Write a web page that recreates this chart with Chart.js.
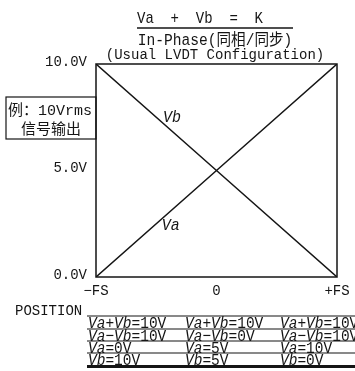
<!DOCTYPE html>
<html>
<head>
<meta charset="utf-8">
<script src="https://cdn.jsdelivr.net/npm/chart.js@4.4.1/dist/chart.umd.min.js"></script>
<style>
  html, body { margin: 0; padding: 0; background: #fff; }
  canvas { display: block; }
</style>
</head>
<body>
<canvas id="chart" width="355" height="371"></canvas>
<script>
// core position (-FS .. +FS) and the two secondary outputs
const positionLabels = ['\u2212FS', '0', '+FS'];
const positionValues = [-1, 0, 1];
const vaValues = [0, 5, 10];
const vbValues = [10, 5, 0];
const voltTicks = [0, 5, 10];
const voltTickLabels = ['0.0V', '5.0V', '10.0V'];

const titleLines = ['Va  +  Vb  =  K', 'In-Phase(同相/同步)', '(Usual LVDT Configuration)'];
const noteLines = ['例：10Vrms', '信号输出'];
const lineNames = [
    { text: 'Va', x: -0.38, y: 2.4 },
    { text: 'Vb', x: -0.37, y: 7.5 }
];

const INK = '#151515';
const MONO = "'Liberation Mono', 'Noto Sans CJK SC', monospace";

function tableRows(i) {
    const va = vaValues[i];
    const vb = vbValues[i];
    return [
        [['Va', true], ['+', false], ['Vb', true], ['=' + (va + vb) + 'V', false]],
        [['Va', true], ['\u2212', false], ['Vb', true], ['=' + Math.abs(va - vb) + 'V', false]],
        [['Va', true], ['=' + va + 'V', false]],
        [['Vb', true], ['=' + vb + 'V', false]]
    ];
}

// text drawn a little taller than wide, like the narrow print font
function tallText(ctx, t, x, y, stretch) {
    ctx.save();
    ctx.translate(x, y);
    ctx.scale(1, stretch);
    ctx.fillText(t, 0, 0);
    ctx.restore();
}

function drawParts(ctx, parts, x, y, size) {
    parts.forEach(([t, italic]) => {
        ctx.font = (italic ? 'italic ' : '') + size + 'px ' + MONO;
        tallText(ctx, t, x, y, 1.15);
        x += ctx.measureText(t).width;
    });
}

const decorations = {
    id: 'decorations',
    afterDatasetsDraw(chart) {
        const { ctx, chartArea: a, scales } = chart;
        ctx.save();
        ctx.strokeStyle = INK;
        ctx.fillStyle = INK;

        // frame around the plot
        ctx.lineWidth = 1.5;
        ctx.strokeRect(a.left, a.top, a.right - a.left, a.bottom - a.top);

        // heading
        ctx.textAlign = 'center';
        ctx.textBaseline = 'alphabetic';
        ctx.font = '14px ' + MONO;
        tallText(ctx, titleLines[0], 200, 23, 1.15);
        ctx.beginPath();
        ctx.moveTo(137, 28);
        ctx.lineTo(293, 28);
        ctx.stroke();
        ctx.font = '14.6px ' + MONO;
        tallText(ctx, titleLines[1], 215, 45, 1.1);
        ctx.font = '14px ' + MONO;
        tallText(ctx, titleLines[2], 215, 59, 1.1);

        // example note box on the left
        ctx.lineWidth = 1.2;
        ctx.strokeRect(6, 97, a.left - 6, 42);
        ctx.font = '15px ' + MONO;
        ctx.fillText(noteLines[0], 50, 115);
        ctx.fillText(noteLines[1], 51, 134);

        // curve names
        ctx.font = 'italic 15px ' + MONO;
        ctx.textBaseline = 'middle';
        lineNames.forEach(n => {
            tallText(ctx, n.text, scales.x.getPixelForValue(n.x), scales.y.getPixelForValue(n.y), 1.1);
        });

        // position table
        ctx.textAlign = 'left';
        ctx.textBaseline = 'alphabetic';
        ctx.font = '14px ' + MONO;
        tallText(ctx, 'POSITION', 15, 315, 1.1);

        const rowLines = [316, 329, 341, 353];
        ctx.lineWidth = 1.2;
        rowLines.forEach(y => {
            ctx.beginPath();
            ctx.moveTo(87, y);
            ctx.lineTo(355, y);
            ctx.stroke();
        });
        ctx.fillRect(87, 365, 268, 3);

        const colX = [88, 185, 280];
        positionValues.forEach((p, i) => {
            tableRows(i).forEach((parts, r) => {
                drawParts(ctx, parts, colX[i], rowLines[r] + 12, 14.5);
            });
        });
        ctx.restore();
    }
};

new Chart(document.getElementById('chart'), {
    type: 'line',
    data: {
        datasets: [
            {
                label: 'Va',
                data: positionValues.map((x, i) => ({ x: x, y: vaValues[i] })),
                borderColor: INK,
                borderWidth: 1.5,
                pointRadius: 0,
                tension: 0
            },
            {
                label: 'Vb',
                data: positionValues.map((x, i) => ({ x: x, y: vbValues[i] })),
                borderColor: INK,
                borderWidth: 1.5,
                pointRadius: 0,
                tension: 0
            }
        ]
    },
    options: {
        responsive: false,
        animation: false,
        layout: { padding: { left: 0, right: 18, top: 64, bottom: 0 } },
        plugins: {
            legend: { display: false },
            tooltip: { enabled: false }
        },
        scales: {
            x: {
                type: 'linear',
                min: -1,
                max: 1,
                afterBuildTicks: s => { s.ticks = positionValues.map(v => ({ value: v })); },
                afterFit: s => {
                    s.height = 94;
                    s.paddingLeft = 0;
                    s.paddingRight = 0;
                },
                grid: { display: false, drawTicks: false },
                border: { display: false },
                ticks: {
                    autoSkip: false,
                    maxRotation: 0,
                    padding: 6,
                    color: INK,
                    font: { family: MONO, size: 14 },
                    callback: (v, i) => positionLabels[i]
                }
            },
            y: {
                min: 0,
                max: 10,
                afterBuildTicks: s => { s.ticks = voltTicks.map(v => ({ value: v })); },
                afterFit: s => {
                    s.width = 96;
                    s.paddingTop = 0;
                    s.paddingBottom = 0;
                },
                grid: { display: false, drawTicks: false },
                border: { display: false },
                ticks: {
                    padding: 9,
                    labelOffset: -2,
                    color: INK,
                    font: { family: MONO, size: 14 },
                    callback: (v, i) => voltTickLabels[i]
                }
            }
        }
    },
    plugins: [decorations]
});
</script>
</body>
</html>
